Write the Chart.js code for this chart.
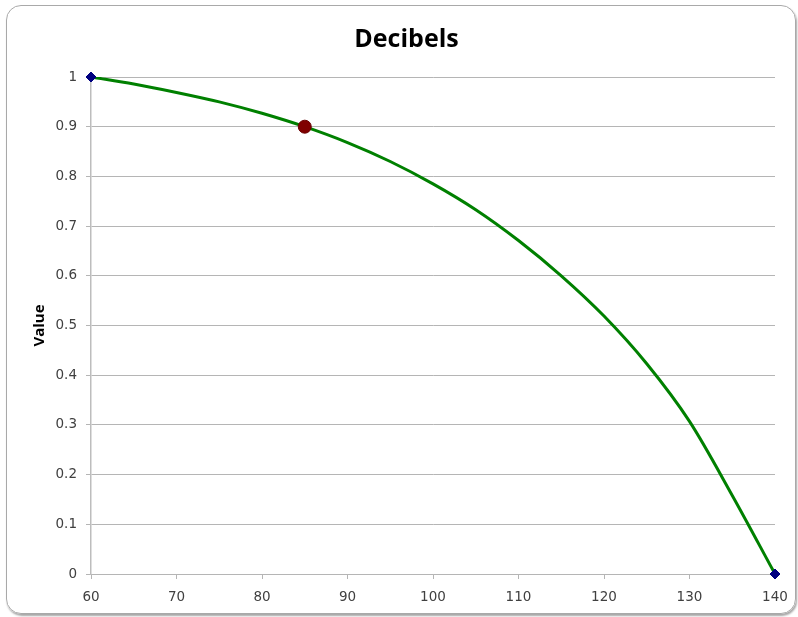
<!DOCTYPE html>
<html>
<head>
<meta charset="utf-8">
<title>Decibels</title>
<script src="https://cdn.jsdelivr.net/npm/chart.js@4/dist/chart.umd.min.js"></script>
<style>
  html, body { margin: 0; padding: 0; background: #ffffff; }
  #wrap { position: relative; width: 798px; height: 617px; }
  #c { position: absolute; left: 0; top: 0; }
  /* rounded chart frame with a soft shadow on the lower right */
  #frame {
    position: absolute; left: 6px; top: 5px; width: 790px; height: 609px;
    box-sizing: border-box; border: 1.5px solid #a9a9a9; border-radius: 15px;
    box-shadow: 1px 2px 2px rgba(0,0,0,0.35); pointer-events: none;
  }
</style>
</head>
<body>
<div id="wrap">
  <canvas id="c" width="798" height="617"></canvas>
  <div id="frame"></div>
</div>
<script>
// Curve: value against decibel level
const decibels = [60, 65, 70, 75, 80, 85, 90, 95, 100, 105, 110, 115, 120, 125, 130, 135, 140];
const values   = [1.0, 0.986, 0.969, 0.95, 0.927, 0.9, 0.868, 0.83, 0.785, 0.733, 0.671, 0.6, 0.519, 0.423, 0.307, 0.158, 0.0];

// End markers of the curve
const endDecibels = [60, 140];
const endValues   = [1.0, 0.0];

// Highlighted point
const markDecibels = [85];
const markValues   = [0.9];

// Axis ticks
const xTickValues = [60, 70, 80, 90, 100, 110, 120, 130, 140];
const yTickLabels = ['0', '0.1', '0.2', '0.3', '0.4', '0.5', '0.6', '0.7', '0.8', '0.9', '1'];

const toPoints = (xs, ys) => xs.map((x, i) => ({ x: x, y: ys[i] }));

const tickFont = { family: 'DejaVu Sans', size: 13.5 };
const gridColor = '#b5b5b5';

new Chart(document.getElementById('c'), {
  type: 'line',
  data: {
    datasets: [
      {
        label: 'Highlight',
        data: toPoints(markDecibels, markValues),
        showLine: false,
        clip: false,
        pointStyle: 'circle',
        pointRadius: 6.5,
        pointBackgroundColor: '#800000',
        pointBorderColor: '#6a0000',
        pointBorderWidth: 1,
        order: 0
      },
      {
        label: 'Ends',
        data: toPoints(endDecibels, endValues),
        showLine: false,
        clip: false,
        pointStyle: 'rectRot',
        pointRadius: 5,
        pointBackgroundColor: '#000080',
        pointBorderColor: '#000080',
        pointBorderWidth: 1,
        order: 1
      },
      {
        label: 'Value',
        data: toPoints(decibels, values),
        borderColor: '#008000',
        borderWidth: 3,
        pointRadius: 0,
        cubicInterpolationMode: 'monotone',
        fill: false,
        order: 2
      }
    ]
  },
  options: {
    responsive: false,
    animation: false,
    events: [],
    layout: { padding: { left: 38, right: 23, top: 0, bottom: 0 } },
    plugins: {
      legend: { display: false },
      tooltip: { enabled: false },
      title: {
        display: true,
        text: 'Decibels',
        color: '#000000',
        font: { family: 'Open Sans', size: 25, weight: 'bold' },
        padding: { top: 25, bottom: 22 }
      }
    },
    scales: {
      x: {
        type: 'linear',
        min: 60,
        max: 140,
        afterBuildTicks: (scale) => { scale.ticks = xTickValues.map(v => ({ value: v })); },
        ticks: {
          font: tickFont,
          color: '#404040',
          padding: 10,
          maxRotation: 0,
          callback: (v) => String(v)
        },
        grid: {
          drawOnChartArea: false,
          drawTicks: true,
          tickLength: 5,
          color: gridColor
        },
        border: { color: gridColor, width: 1 },
        afterFit: (scale) => { scale.height = 43; }
      },
      y: {
        type: 'linear',
        min: 0,
        max: 1,
        afterBuildTicks: (scale) => { scale.ticks = yTickLabels.map(t => ({ value: parseFloat(t) })); },
        ticks: {
          font: tickFont,
          color: '#404040',
          padding: 9,
          callback: (v) => yTickLabels.find(t => Math.abs(parseFloat(t) - v) < 1e-9)
        },
        grid: {
          color: gridColor,
          tickLength: 5
        },
        border: { color: '#bdbdbd', width: 1.5 },
        title: {
          display: true,
          text: 'Value',
          color: '#000000',
          font: { family: 'Open Sans', size: 15, weight: 'bold' },
          padding: { top: -7.5, bottom: 0 }
        },
        afterFit: (scale) => { scale.width = 53; }
      }
    }
  }
});
</script>
</body>
</html>
